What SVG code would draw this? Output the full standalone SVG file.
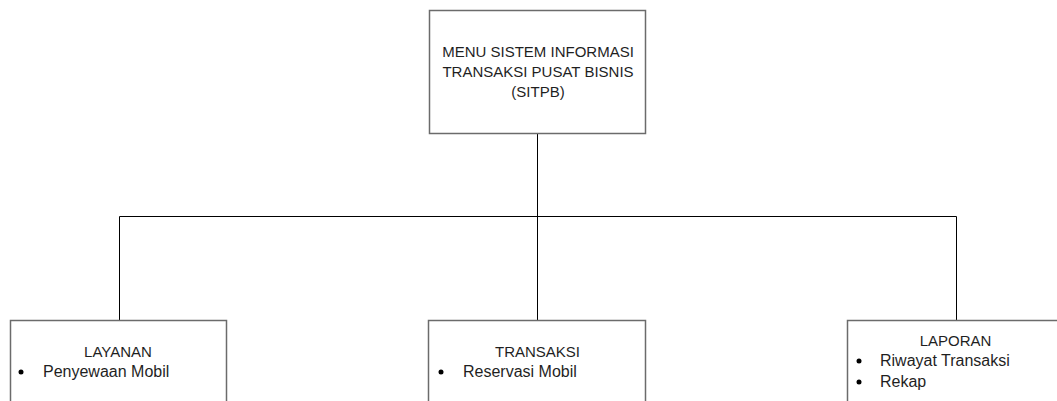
<svg xmlns="http://www.w3.org/2000/svg" width="1057" height="401" viewBox="0 0 1057 401">
<style>
.box{fill:#fff;stroke:#6b6b6b;stroke-width:1.5}
.t{font-family:"Liberation Sans",Arial,sans-serif;font-size:15px;fill:#1f1f1f}
.i{font-size:16px}
.c{text-anchor:middle}
.ln{stroke:#000;stroke-width:1;fill:none}
.b{fill:#000}
</style>
<rect width="1057" height="401" fill="#fff"/>
<g id="connectors">
<path class="ln" d="M537.5 134V216.5M119.5 216.5H956.5M119.5 216.5V320M537.5 216.5V320M956.5 216.5V320"/>
</g>
<g id="node-root">
<rect class="box" x="429.5" y="10.5" width="216" height="123"/>
<text class="t c" x="538" y="57">MENU SISTEM INFORMASI</text>
<text class="t c" x="538" y="77">TRANSAKSI PUSAT BISNIS</text>
<text class="t c" x="538" y="97">(SITPB)</text>
</g>
<g id="node-layanan">
<rect class="box" x="10.5" y="320.5" width="216" height="100"/>
<text class="t c" x="118" y="357">LAYANAN</text>
<circle class="b" cx="21" cy="372" r="2.5"/>
<text class="t i" x="43" y="377">Penyewaan Mobil</text>
</g>
<g id="node-transaksi">
<rect class="box" x="428.5" y="320.5" width="217" height="100"/>
<text class="t c" x="537.5" y="357">TRANSAKSI</text>
<circle class="b" cx="441" cy="372" r="2.5"/>
<text class="t i" x="463" y="377">Reservasi Mobil</text>
</g>
<g id="node-laporan">
<rect class="box" x="847.5" y="320.5" width="230" height="100"/>
<text class="t c" x="955.5" y="346">LAPORAN</text>
<circle class="b" cx="859" cy="361" r="2.5"/>
<text class="t i" x="880" y="366">Riwayat Transaksi</text>
<circle class="b" cx="859" cy="382" r="2.5"/>
<text class="t i" x="880" y="387">Rekap</text>
</g>
</svg>
